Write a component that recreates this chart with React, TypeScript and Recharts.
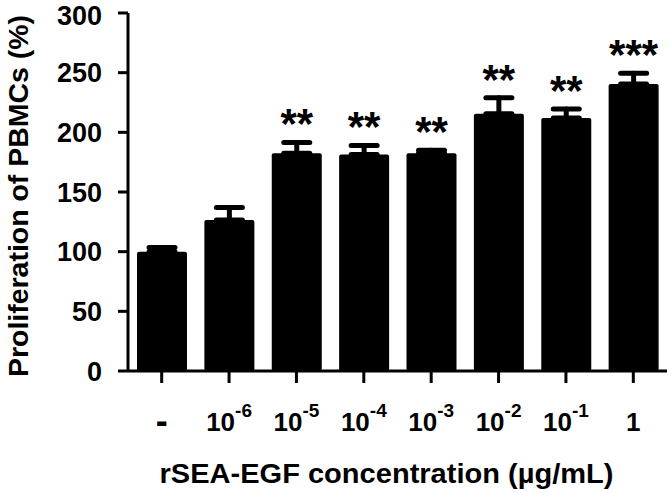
import { Bar, BarChart, ErrorBar, Label, LabelList, XAxis, YAxis } from "recharts";

const FONT = "'Liberation Sans', Arial, sans-serif";

// rSEA-EGF dose groups (µg/mL), "-" is the untreated control
const doses = ["-", "10^-6", "10^-5", "10^-4", "10^-3", "10^-2", "10^-1", "1"];
const proliferation = [100, 126.5, 182.5, 181.5, 182.5, 215.5, 212, 240.5];
const sem = [3.5, 10.5, 9, 7.5, 2.5, 13.5, 7.5, 9];
const stars = ["", "", "**", "**", "**", "**", "**", "***"];
const yTicks = [0, 50, 100, 150, 200, 250, 300];

const data = doses.map((dose, i) => ({
  dose,
  value: proliferation[i],
  err: [0, sem[i]],
  stars: stars[i],
}));

function DoseTick({ x, y, payload }: any) {
  const label: string = payload.value;
  if (label.includes("^")) {
    const [base, exp] = label.split("^");
    return (
      <text x={x} y={y + 46} textAnchor="middle" fontFamily={FONT} fontWeight="bold" fill="#000">
        <tspan fontSize={26}>{base}</tspan>
        <tspan fontSize={19} dy={-14}>{exp}</tspan>
      </text>
    );
  }
  return (
    <text x={x} y={y + (label === "-" ? 48 : 46)} textAnchor="middle" fontFamily={FONT} fontWeight="bold" fontSize={label === "-" ? 36 : 26} fill="#000">
      {label}
    </text>
  );
}

function StarLabel(props: any) {
  const { x, y, width, height, value, index } = props;
  if (!value) return null;
  const perUnit = height / proliferation[index];
  const top = y - sem[index] * perUnit;
  return (
    <text x={x + width / 2} y={top - 4} textAnchor="middle" fontFamily={FONT} fontWeight="bold" fontSize={42} fill="#000">
      {value}
    </text>
  );
}

function XTitle({ viewBox }: any) {
  return (
    <text
      x={viewBox.x + viewBox.width / 2 - 11}
      y={viewBox.y + viewBox.height - 10}
      textAnchor="middle"
      fontFamily={FONT}
      fontWeight="bold"
      fontSize={27}
      textLength={454}
      lengthAdjust="spacingAndGlyphs"
      fill="#000"
    >
      rSEA-EGF concentration (µg/mL)
    </text>
  );
}

function YTitle({ viewBox }: any) {
  const cx = 28;
  const cy = viewBox.y + viewBox.height / 2 + 4;
  return (
    <text
      x={cx}
      y={cy}
      transform={`rotate(-90, ${cx}, ${cy})`}
      textAnchor="middle"
      fontFamily={FONT}
      fontWeight="bold"
      fontSize={28}
      textLength={362}
      lengthAdjust="spacingAndGlyphs"
      fill="#000"
    >
      Proliferation of PBMCs (%)
    </text>
  );
}

export default function App() {
  return (
    <div style={{ position: "absolute", left: 0, top: 0, background: "#fff" }}>
      <BarChart width={672} height={493} data={data} margin={{ top: 13, right: 5, left: 0, bottom: 0 }}>
        <XAxis
          dataKey="dose"
          height={122}
          tickSize={12}
          axisLine={{ stroke: "#000", strokeWidth: 3 }}
          tickLine={{ stroke: "#000", strokeWidth: 3 }}
          tick={<DoseTick />}
          interval={0}
        >
          <Label content={<XTitle />} />
        </XAxis>
        <YAxis
          width={128}
          domain={[0, 300]}
          ticks={yTicks}
          tickSize={10}
          tickMargin={16}
          axisLine={{ stroke: "#000", strokeWidth: 3 }}
          tickLine={{ stroke: "#000", strokeWidth: 3 }}
          tick={{ fontFamily: FONT, fontWeight: "bold", fontSize: 27, fill: "#000" }}
        >
          <Label content={<YTitle />} />
        </YAxis>
        <Bar dataKey="value" fill="#000" barSize={50} radius={2} isAnimationActive={false}>
          <ErrorBar dataKey="err" direction="y" width={13} stroke="#000" strokeWidth={5} strokeLinecap="round" />
          <LabelList dataKey="stars" content={<StarLabel />} />
        </Bar>
      </BarChart>
    </div>
  );
}
